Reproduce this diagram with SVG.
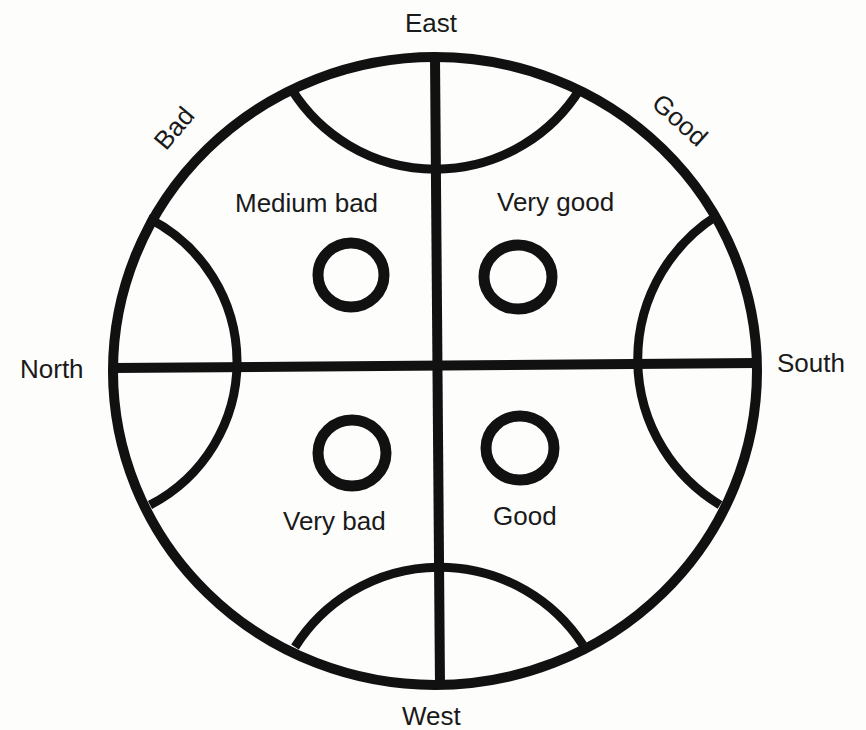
<svg xmlns="http://www.w3.org/2000/svg" width="866" height="730" viewBox="0 0 866 730">
<style>
.ln{fill:none;stroke:#111;stroke-width:10;stroke-linecap:butt}
.arc{fill:none;stroke:#111;stroke-width:9}
.ring{fill:none;stroke:#111;stroke-width:11}
.t{font-family:"Liberation Sans",Arial,sans-serif;font-size:26px;fill:#1a1a1a}
</style>
<rect width="866" height="730" fill="#fdfdfc"/>
<g id="outer"><ellipse class="ln" cx="435" cy="371" rx="322" ry="314"/></g>
<g id="connectors">
<line class="ln" x1="435" y1="57" x2="440" y2="686"/>
<line class="ln" x1="113" y1="368" x2="757" y2="363"/>
<path class="arc" d="M292,90 A170,170 0 0 0 580,89"/>
<path class="arc" d="M295,647 A171,171 0 0 1 583,645"/>
<path class="arc" d="M148,218 A161,161 0 0 1 150,505"/>
<path class="arc" d="M718,215 A170,170 0 0 0 720,505"/>
</g>
<g id="ring-medium-bad"><ellipse class="ring" cx="351" cy="275" rx="33" ry="32"/></g>
<g id="ring-very-good"><ellipse class="ring" cx="518" cy="277" rx="34" ry="32"/></g>
<g id="ring-very-bad"><ellipse class="ring" cx="352" cy="453" rx="34" ry="33"/></g>
<g id="ring-good"><ellipse class="ring" cx="520" cy="448" rx="34" ry="32"/></g>
<g id="labels">
<text class="t" x="405" y="32">East</text>
<text class="t" x="402" y="725">West</text>
<text class="t" x="20" y="378">North</text>
<text class="t" x="777" y="372">South</text>
<text class="t" x="235" y="212">Medium bad</text>
<text class="t" x="497" y="211">Very good</text>
<text class="t" x="283" y="530">Very bad</text>
<text class="t" x="493" y="525">Good</text>
<g transform="translate(174,128) rotate(-50)"><text class="t" x="0" y="9" text-anchor="middle">Bad</text></g>
<g transform="translate(680,120) rotate(42)"><text class="t" x="0" y="9" text-anchor="middle">Good</text></g>
</g>
</svg>
